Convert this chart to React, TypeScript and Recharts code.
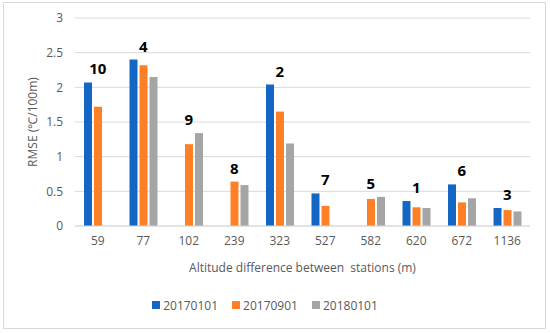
import React from "react";
import { ComposedChart, Bar, Line, XAxis, YAxis, CartesianGrid, Legend, LabelList } from "recharts";

const altitudes = ["59", "77", "102", "239", "323", "527", "582", "620", "672", "1136"];
const stations = [10, 4, 9, 8, 2, 7, 5, 1, 6, 3];
const s20170101: (number | null)[] = [2.07, 2.4, null, null, 2.04, 0.47, null, 0.36, 0.6, 0.26];
const s20170901: (number | null)[] = [1.72, 2.32, 1.18, 0.64, 1.65, 0.29, 0.39, 0.27, 0.34, 0.23];
const s20180101: (number | null)[] = [null, 2.15, 1.34, 0.59, 1.19, null, 0.42, 0.26, 0.4, 0.21];
const yTicks = [0, 0.5, 1, 1.5, 2, 2.5, 3];

const seriesNames = ["20170101", "20170901", "20180101"];
const colors = ["#1366c4", "#ff7f27", "#a5a5a5"];

const data = altitudes.map((a, i) => {
  const vals = [s20170101[i], s20170901[i], s20180101[i]].filter((v) => v != null) as number[];
  return {
    alt: a,
    station: stations[i],
    s1: s20170101[i],
    s2: s20170901[i],
    s3: s20180101[i],
    top: Math.max(...vals),
  };
});

const FONT = "'Open Sans', sans-serif";
const TXT = "#595959";

const YLabel = (props: any) => {
  const vb = props.viewBox || {};
  const cx = 32;
  const cy = vb.y + vb.height / 2;
  return (
    <text x={cx} y={cy} transform={`rotate(-90, ${cx}, ${cy})`} textAnchor="middle" dominantBaseline="central" fill={TXT} fontSize={12} fontFamily={FONT}>
      RMSE (℃/100m)
    </text>
  );
};

const XLabel = (props: any) => {
  const vb = props.viewBox || {};
  const cx = vb.x + vb.width / 2;
  return (
    <text x={cx} y={267} textAnchor="middle" dominantBaseline="central" fill={TXT} fontSize={12} fontFamily={FONT} style={{ whiteSpace: "pre" }}>
      {"Altitude difference between  stations (m)"}
    </text>
  );
};

const LegendContent = () => (
  <div style={{ display: "flex", justifyContent: "center", gap: 14, fontFamily: FONT, fontSize: 12, color: TXT, height: 20, alignItems: "center" }}>
    {seriesNames.map((n, i) => (
      <div key={n} style={{ display: "flex", alignItems: "center", gap: 3 }}>
        <span style={{ width: 8, height: 8, background: colors[i], display: "inline-block" }} />
        <span>{n}</span>
      </div>
    ))}
  </div>
);

export default function App() {
  return (
    <div style={{ position: "absolute", left: 0, top: 0, width: 550, height: 333, background: "#fff" }}>
      <div style={{ position: "absolute", left: 3, top: 2, width: 541, height: 325, border: "1px solid #d9d9d9" }} />
      <ComposedChart
        width={550}
        height={333}
        data={data}
        margin={{ top: 18, right: 20, left: 0, bottom: 37 }}
        barGap={2}
        barSize={8}
        style={{ position: "absolute", left: 0, top: 0 }}
      >
        <CartesianGrid vertical={false} stroke="#d9d9d9" />
        <XAxis
          dataKey="alt"
          height={50}
          tickSize={0}
          tickMargin={10}
          axisLine={{ stroke: "#d9d9d9" }}
          tick={{ fill: TXT, fontSize: 12, fontFamily: FONT }}
          label={<XLabel />}
        />
        <YAxis
          width={75}
          domain={[0, 3]}
          ticks={yTicks}
          axisLine={false}
          tickSize={0}
          tickMargin={12}
          tick={{ fill: TXT, fontSize: 12, fontFamily: FONT }}
          label={<YLabel />}
        />
        <Bar dataKey="s1" name={seriesNames[0]} fill={colors[0]} isAnimationActive={false} />
        <Bar dataKey="s2" name={seriesNames[1]} fill={colors[1]} isAnimationActive={false} />
        <Bar dataKey="s3" name={seriesNames[2]} fill={colors[2]} isAnimationActive={false} />
        <Line dataKey="top" stroke="none" dot={false} activeDot={false} legendType="none" isAnimationActive={false}>
          <LabelList dataKey="station" position="top" offset={8} fill="#000" fontSize={15} fontWeight="bold" fontFamily={FONT} />
        </Line>
        <Legend verticalAlign="bottom" height={20} wrapperStyle={{ bottom: 18 }} content={<LegendContent />} />
      </ComposedChart>
    </div>
  );
}
